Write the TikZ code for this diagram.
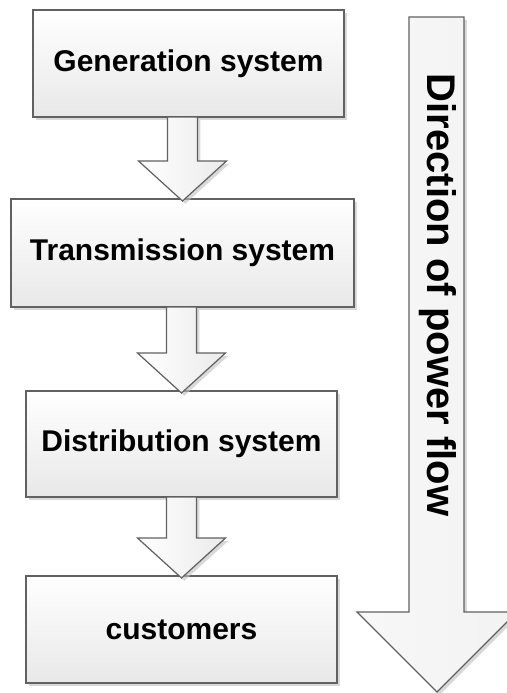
\documentclass[tikz,border=0pt]{standalone}
\usepackage{fontspec}
\setmainfont{Liberation Sans}
\usepackage{tikz}
\usetikzlibrary{calc,shadows}

% block arrow from the bottom of one stage to the top of the next
\newcommand{\flowarrow}[2]{%
\draw [flowarrow] ($(#1.south -| #2.north)+(-15,0)$) -- ($(#2.north)+(-15,-38)$) -- ($(#2.north)+(-44,-38)$) -- ($(#2.north)+(0,2)$) -- ($(#2.north)+(44,-38)$) -- ($(#2.north)+(15,-38)$) -- ($(#1.south -| #2.north)+(15,0)$) -- cycle;}

\begin{document}
\begin{tikzpicture}[line join=miter,x=0.5pt,y=-0.5pt,
stage/.style={draw=black!62,line width=0.6pt,top color=white,bottom color=black!9,
  minimum width=155.5pt,minimum height=53.5pt,inner sep=0pt,outer sep=0pt,
  font=\fontsize{15}{18}\selectfont\bfseries,
  drop shadow={shadow xshift=1.6pt,shadow yshift=-1.6pt,fill=black!25,opacity=0.6}},
flowarrow/.style={draw=black!62,line width=0.6pt,left color=white,right color=black!8,
  drop shadow={shadow xshift=1.4pt,shadow yshift=-1.4pt,fill=black!25,opacity=0.6}}]
\useasboundingbox (0,0) rectangle (507,693);
% power flow arrow
\draw [flowarrow,left color=black!3,right color=black!5] (409,17) -- (464,17) -- (464,612) -- (517,612) -- (437,692) -- (357,612) -- (409,612) -- cycle;
\node [rotate=-90,font=\fontsize{20}{24}\selectfont\bfseries] (dir) at (437.5,295) {Direction of power flow};
% stages
\node [stage] (gen) at (188.5,63.5) {Generation system};
\node [stage,minimum width=171.5pt,minimum height=54pt] (trans) at (182.5,253) {Transmission system};
\node [stage,minimum height=53pt] (dist) at (181.5,444) {Distribution system};
\node [stage] (cust) at (181.5,629.5) {customers};
\flowarrow{gen}{trans}
\flowarrow{trans}{dist}
\flowarrow{dist}{cust}
\end{tikzpicture}
\end{document}
